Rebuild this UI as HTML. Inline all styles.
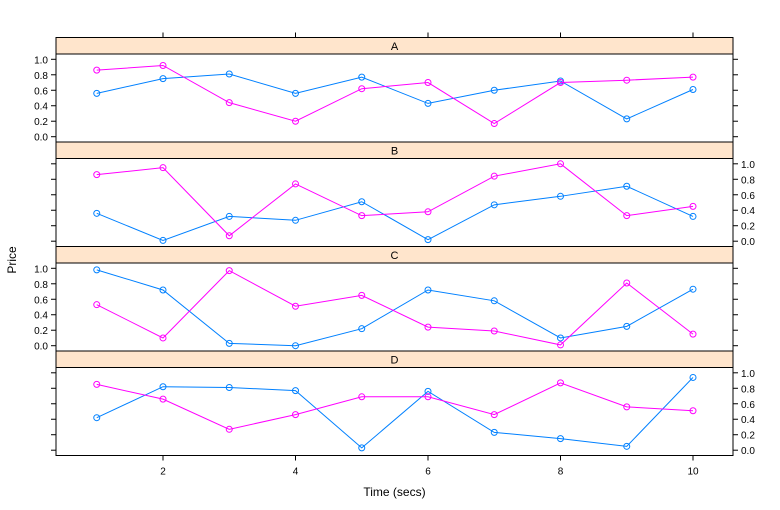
<!DOCTYPE html>
<html><head><meta charset="utf-8"><style>
body{margin:0;background:#fff;}
svg{display:block;font-family:"Liberation Sans",sans-serif;}
</style></head><body>
<svg id="chart" width="780" height="510"></svg>
<script>
const categories=[1,2,3,4,5,6,7,8,9,10];
const panelNames=["A","B","C","D"];
const blueA=[0.56,0.75,0.81,0.56,0.77,0.43,0.60,0.72,0.23,0.61];
const pinkA=[0.86,0.92,0.44,0.20,0.62,0.70,0.17,0.70,0.73,0.77];
const blueB=[0.36,0.01,0.32,0.27,0.51,0.02,0.47,0.58,0.71,0.32];
const pinkB=[0.86,0.95,0.07,0.74,0.33,0.38,0.84,1.00,0.33,0.45];
const blueC=[0.98,0.72,0.03,0.00,0.22,0.72,0.58,0.10,0.25,0.73];
const pinkC=[0.53,0.10,0.97,0.51,0.65,0.24,0.19,0.01,0.81,0.15];
const blueD=[0.42,0.82,0.81,0.77,0.03,0.76,0.23,0.15,0.05,0.94];
const pinkD=[0.85,0.66,0.27,0.46,0.69,0.69,0.46,0.87,0.56,0.51];
const yTicks=[0,0.2,0.4,0.6,0.8,1.0];
const yTickLabels=["0.0","0.2","0.4","0.6","0.8","1.0"];
const xTicks=[2,4,6,8,10];
const xTickLabels=["2","4","6","8","10"];

const svg=document.getElementById('chart');
const NS='http://www.w3.org/2000/svg';
function mk(t,a,p){const e=document.createElementNS(NS,t);for(const k in a)e.setAttribute(k,a[k]);(p||svg).appendChild(e);return e;}
const L=56,R=733,stripH=16.5,panelH=88,top0=37.5;
const xs=v=>163+(v-2)*66.25;
function ysFn(pTop){return v=>pTop+panelH-5.3-v*77.4;}
const series=[[blueA,pinkA],[blueB,pinkB],[blueC,pinkC],[blueD,pinkD]];
const colors=["#0080ff","#ff00ff"];

// top ticks
xTicks.forEach((t)=>{
  const tk=mk('line',{x1:xs(t),x2:xs(t),y1:top0-5,y2:top0,stroke:'#000'});
  
  
});

panelNames.forEach((name,i)=>{
  const sTop=top0+i*(stripH+panelH);
  const pTop=sTop+stripH;
  const ys=ysFn(pTop);
  const g=mk('g',{});
  
  
  const strip=mk('rect',{x:L,y:sTop,width:R-L,height:stripH,fill:'#ffe5cc',stroke:'#000'},g);
  
  
  const st=mk('text',{x:(L+R)/2,y:sTop+12.5,'text-anchor':'middle','font-size':'11'},g);
  st.textContent=name;
  
  
  const pr=mk('rect',{x:L,y:pTop,width:R-L,height:panelH,fill:'none',stroke:'#000'},g);
  
  
  const leftLab=(i%2===0);
  yTicks.forEach((t,j)=>{
    const y=ys(t);
    const a=mk('line',{x1:L-5,x2:L,y1:y,y2:y,stroke:'#000'},g);
    
    
    const b=mk('line',{x1:R,x2:R+5,y1:y,y2:y,stroke:'#000'},g);
    
    
    const tx=mk('text',{x:leftLab?L-8:R+8,y:y+4,'text-anchor':leftLab?'end':'start','font-size':'10'},g);
    tx.textContent=yTickLabels[j];
    
    
  });
  series[i].forEach((vals,k)=>{
    const pts=categories.map((c,j)=>xs(c)+','+ys(vals[j])).join(' ');
    const pl=mk('polyline',{points:pts,fill:'none',stroke:colors[k],'stroke-width':1},g);
    
    
    categories.forEach((c,j)=>{
      const ci=mk('circle',{cx:xs(c),cy:ys(vals[j]),r:3,fill:'none',stroke:colors[k],'stroke-width':1},g);
      
      
    });
  });
});
const bottom=top0+4*(stripH+panelH);
xTicks.forEach((t,j)=>{
  const tk=mk('line',{x1:xs(t),x2:xs(t),y1:bottom,y2:bottom+5,stroke:'#000'});
  
  
  const tx=mk('text',{x:xs(t),y:bottom+19,'text-anchor':'middle','font-size':'10'});
  tx.textContent=xTickLabels[j];
  
  
});
const xt=mk('text',{x:(L+R)/2,y:496,'text-anchor':'middle','font-size':'12'});
xt.textContent='Time (secs)';


const yt=mk('text',{x:16,y:260,'text-anchor':'middle','font-size':'12',transform:'rotate(-90 16 260)'});
yt.textContent='Price';


</script>
</body></html>
